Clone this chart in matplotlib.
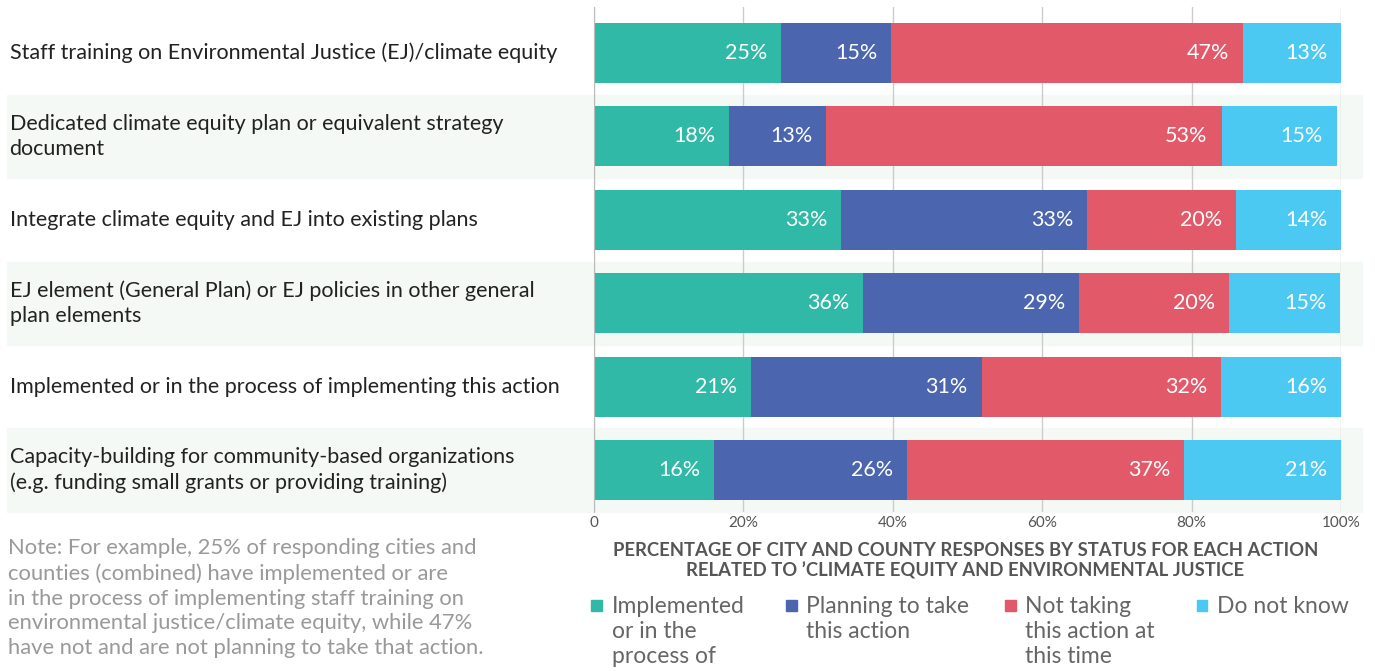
import numpy as np
import matplotlib.pyplot as plt
import matplotlib.transforms as mtransforms
from matplotlib.patches import Rectangle

plt.rcParams['font.family'] = ['Lato', 'DejaVu Sans']

#Categories (top to bottom) and share of responses per status (%)
actions = ['Staff training on Environmental Justice (EJ)/climate equity',
           'Dedicated climate equity plan or equivalent strategy\ndocument',
           'Integrate climate equity and EJ into existing plans',
           'EJ element (General Plan) or EJ policies in other general\nplan elements',
           'Implemented or in the process of implementing this action',
           'Capacity-building for community-based organizations\n(e.g. funding small grants or providing training)']

implemented = [25.0, 18.1, 33.1, 36.0, 21.0, 16.1]
planning    = [14.8, 13.0, 32.9, 28.9, 30.9, 25.8]
not_taking  = [47.1, 52.9, 19.9, 20.1, 32.0, 37.1]
dont_know   = [13.1, 15.4, 14.1, 14.9, 16.1, 21.0]

series_names = ['Implemented\nor in the\nprocess of', 'Planning to take\nthis action',
                'Not taking\nthis action at\nthis time', 'Do not know']
colors = ['#2fb9a6', '#4b66ae', '#e25a6a', '#4cc9f3']

xticks = [0, 20, 40, 60, 80, 100]
xtick_labels = ['0', '20%', '40%', '60%', '80%', '100%']

note = ('Note: For example, 25% of responding cities and\n'
        'counties (combined) have implemented or are\n'
        'in the process of implementing staff training on\n'
        'environmental justice/climate equity, while 47%\n'
        'have not and are not planning to take that action.')

#Create the figure
fig = plt.figure(figsize=(13.75, 6.71), dpi=100)
ax = fig.add_axes([0.432, 0.237, 0.5433, 0.7527])

ypos = np.arange(len(actions))
left = np.zeros(len(actions))
for vals, col in zip([implemented, planning, not_taking, dont_know], colors):
    vals = np.array(vals)
    ax.barh(ypos, vals, left=left, height=0.72, color=col, zorder=2)
    for y, l, v in zip(ypos, left, vals):
        ax.annotate('%d%%' % round(v), xy=(l + v, y), xytext=(-10, 0),
                    textcoords='offset points', ha='right', va='center',
                    color='white', fontsize=15.5, zorder=3)
    left += vals

#Alternating light bands behind every second row, spanning the label column too
trans = mtransforms.blended_transform_factory(fig.transFigure, ax.transData)
for y in ypos[1::2]:
    ax.add_patch(Rectangle((0.005, y - 0.5), 0.9855, 1.0, transform=trans,
                           color='#f4f9f5', zorder=0.1, clip_on=False))

#Row labels
for y, lab in zip(ypos, actions):
    ax.text(0.007, y, lab, transform=trans, ha='left', va='center',
            fontsize=15.5, color='#222222', linespacing=1.3)

ax.set_xlim(0, 100)
ax.set_ylim(5.5, -0.55)
ax.set_xticks(xticks)
ax.set_xticklabels(xtick_labels)
ax.set_yticks([])
ax.tick_params(axis='x', length=0, labelsize=11, labelcolor='#555555', pad=3)
ax.grid(axis='x', color='#cccccc', linewidth=1)
ax.set_axisbelow(True)
for s in ['top', 'right', 'bottom']:
    ax.spines[s].set_visible(False)
ax.spines['left'].set_color('#bbbbbb')
ax.patch.set_alpha(0)

#Axis title
fig.text(0.702, 0.1647, 'PERCENTAGE OF CITY AND COUNTY RESPONSES BY STATUS FOR EACH ACTION\n'
         'RELATED TO \u2019CLIMATE EQUITY AND ENVIRONMENTAL JUSTICE',
         ha='center', va='center', fontsize=13.3, fontweight='bold', color='#555555',
         linespacing=1.2)

#Legend, drawn by hand so squares line up with the first text line
leg_x = [0.430, 0.5716, 0.731, 0.8703]
for x, name, col in zip(leg_x, series_names, colors):
    fig.patches.append(Rectangle((x, 0.089), 0.0078, 0.017, transform=fig.transFigure,
                                 color=col, figure=fig))
    fig.text(x + 0.0148, 0.112, name, ha='left', va='top', fontsize=16.5,
             color='#666666', linespacing=1.25)

#Note
fig.text(0.006, 0.198, note, ha='left', va='top', fontsize=15.8, color='#999999',
         linespacing=1.3)

plt.savefig('out.png', dpi=100)
